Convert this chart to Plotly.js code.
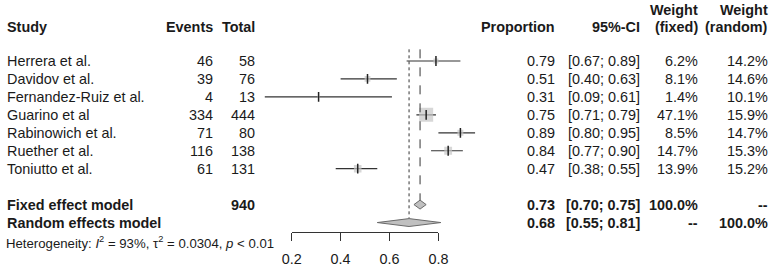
<!DOCTYPE html>
<html>
<head>
<meta charset="utf-8">
<script src="https://cdn.plot.ly/plotly-3.0.1.min.js"></script>
<style>html,body{margin:0;padding:0;background:#fff;}#chart{width:778px;height:272px;}</style>
</head>
<body>
<div id="chart"></div>
<script>
// ---- data ----
const studies = ["Herrera et al.", "Davidov et al.", "Fernandez-Ruiz et al.", "Guarino et al", "Rabinowich et al.", "Ruether et al.", "Toniutto et al."];
const events = [46, 39, 4, 334, 71, 116, 61];
const totals = [58, 76, 13, 444, 80, 138, 131];
const proportion = [0.79, 0.51, 0.31, 0.75, 0.89, 0.84, 0.47];
const ciLower = [0.67, 0.40, 0.09, 0.71, 0.80, 0.77, 0.38];
const ciUpper = [0.89, 0.63, 0.61, 0.79, 0.95, 0.90, 0.55];
const weightFixed = [6.2, 8.1, 1.4, 47.1, 8.5, 14.7, 13.9];
const weightRandom = [14.2, 14.6, 10.1, 15.9, 14.7, 15.3, 15.2];
const fixedModel = {label: "Fixed effect model", total: 940, est: 0.725, lo: 0.70, hi: 0.75, estText: "0.73", ciText: "[0.70; 0.75]", wF: "100.0%", wR: "--"};
const randomModel = {label: "Random effects model", est: 0.68, lo: 0.55, hi: 0.81, estText: "0.68", ciText: "[0.55; 0.81]", wF: "--", wR: "100.0%"};
const tickVals = [0.2, 0.4, 0.6, 0.8];
const tickText = ["0.2", "0.4", "0.6", "0.8"];
const heterogeneity = "Heterogeneity: <i>I</i><sup>2</sup> = 93%, τ<sup>2</sup> = 0.0304, <i>p</i> &lt; 0.01";

// ---- geometry helpers ----
const W = 778, H = 272;
const FONT = "Liberation Sans, Arial, sans-serif";
const FS = 14.4;
const TXT = "#1a1a1a";
const axisY = 231.7;            // pixel row of the x axis line
const row0 = 61, rowH = 17.95;  // pixel centre of first study row, row height
const px = p => p / W;
const py = p => 1 - p / H;
const rowOf = p => (p - row0) / rowH;
const v0 = 242.8, vScale = 244.5; // pixel of value 0, pixels per unit
const xr = [(0 - v0) / vScale, (W - v0) / vScale];
const yr = [rowOf(axisY), rowOf(0)];

const nS = studies.length;
const rows = studies.map((_, i) => i);
const fixedRow = nS + 1, randomRow = nS + 2;

const traces = [];
// CI lines
const ciX = [], ciY = [];
rows.forEach(i => { ciX.push(ciLower[i], ciUpper[i], null); ciY.push(i, i, null); });
traces.push({x: ciX, y: ciY, mode: "lines", line: {color: "#333", width: 1.2}, hoverinfo: "skip", xaxis: "x", yaxis: "y"});
// weight squares
traces.push({x: proportion, y: rows, mode: "markers", hoverinfo: "skip",
  marker: {symbol: "square", color: "#c6c6c6", size: weightFixed.map(w => 14 * Math.sqrt(w / Math.max(...weightFixed))), line: {width: 0}}});
// point estimate ticks
traces.push({x: proportion, y: rows, mode: "markers", hoverinfo: "skip",
  marker: {symbol: "line-ns-open", size: 7, color: "#222", line: {color: "#222", width: 1.5}}});
// reference lines
traces.push({x: [fixedModel.est, fixedModel.est], y: [-0.65, fixedRow - 0.25], mode: "lines", hoverinfo: "skip",
  line: {color: "#333", width: 1, dash: "dash"}});
traces.push({x: [randomModel.est, randomModel.est], y: [-0.65, randomRow - 0.22], mode: "lines", hoverinfo: "skip",
  line: {color: "#333", width: 1, dash: "dot"}});
// diamonds
function diamond(m, r, h) {
  return {x: [m.lo, m.est, m.hi, m.est, m.lo], y: [r, r - h, r, r + h, r], mode: "lines", fill: "toself",
    fillcolor: "#c0c0c0", line: {color: "#6a6a6a", width: 1}, hoverinfo: "skip"};
}
traces.push(diamond(fixedModel, fixedRow, 0.25));
traces.push(diamond(randomModel, randomRow, 0.22));
// invisible trace to host the visible axis
traces.push({x: tickVals, y: tickVals.map(() => 0), mode: "markers", marker: {opacity: 0}, hoverinfo: "skip", xaxis: "x2", yaxis: "y"});

// ---- text table ----
const ann = [];
function t(text, xPix, yVal, anchor, bold, yref) {
  ann.push({text: bold ? "<b>" + text + "</b>" : text, x: px(xPix), xref: "paper", xanchor: anchor,
    y: yVal, yref: yref || "y", yanchor: "middle", showarrow: false,
    font: {family: FONT, size: FS, color: TXT}});
}
const cStudy = 5, cEvents = 215, cTotal = 257, cProp = 557, cCI = 642, cWF = 700, cWR = 770;
// headers
const hRow = rowOf(27), hRow2 = rowOf(10);
t("Study", cStudy, hRow, "left", true);
t("Events", cEvents, hRow, "right", true);
t("Total", cTotal, hRow, "right", true);
t("Proportion", cProp, hRow, "right", true);
t("95%-CI", cCI, hRow, "right", true);
t("Weight", cWF, hRow2, "right", true);
t("(fixed)", cWF, hRow, "right", true);
t("Weight", cWR, hRow2, "right", true);
t("(random)", cWR, hRow, "right", true);
// studies
rows.forEach(i => {
  t(studies[i], cStudy, i, "left");
  t(String(events[i]), cEvents, i, "right");
  t(String(totals[i]), cTotal, i, "right");
  t(proportion[i].toFixed(2), cProp, i, "right");
  t("[" + ciLower[i].toFixed(2) + "; " + ciUpper[i].toFixed(2) + "]", cCI, i, "right");
  t(weightFixed[i].toFixed(1) + "%", cWF, i, "right");
  t(weightRandom[i].toFixed(1) + "%", cWR, i, "right");
});
// pooled
t(fixedModel.label, cStudy, fixedRow, "left", true);
t(String(fixedModel.total), cTotal, fixedRow, "right", true);
t(fixedModel.estText, cProp, fixedRow, "right", true);
t(fixedModel.ciText, cCI, fixedRow, "right", true);
t(fixedModel.wF, cWF, fixedRow, "right", true);
t(fixedModel.wR, cWR, fixedRow, "right", true);
t(randomModel.label, cStudy, randomRow, "left", true);
t(randomModel.estText, cProp, randomRow, "right", true);
t(randomModel.ciText, cCI, randomRow, "right", true);
t(randomModel.wF, cWF, randomRow, "right", true);
t(randomModel.wR, cWR, randomRow, "right", true);
// heterogeneity
ann.push({text: heterogeneity, x: px(4), xref: "paper", xanchor: "left", y: py(242.5), yref: "paper", yanchor: "middle",
  showarrow: false, font: {family: FONT, size: 13.2, color: TXT}});

const layout = {
  width: W, height: H,
  margin: {l: 0, r: 0, t: 0, b: 0, pad: 0},
  paper_bgcolor: "#fff", plot_bgcolor: "rgba(0,0,0,0)",
  showlegend: false,
  xaxis: {domain: [0, 1], range: xr, visible: false, fixedrange: true},
  xaxis2: {domain: [v0 / W + 0.2 * vScale / W, v0 / W + 0.8 * vScale / W], range: [0.2, 0.8], anchor: "y",
    showline: true, linecolor: "#333", linewidth: 1, ticks: "outside", ticklen: 8, tickwidth: 1, tickcolor: "#333",
    tickvals: tickVals, ticktext: tickText, showgrid: false, zeroline: false, ticklabelstandoff: 6,
    tickfont: {family: FONT, size: FS, color: TXT}, fixedrange: true},
  yaxis: {domain: [1 - axisY / H, 1], range: yr, visible: false, anchor: "x", fixedrange: true},
  annotations: ann
};
Plotly.newPlot("chart", traces, layout, {displayModeBar: false, staticPlot: true});
</script>
</body>
</html>
